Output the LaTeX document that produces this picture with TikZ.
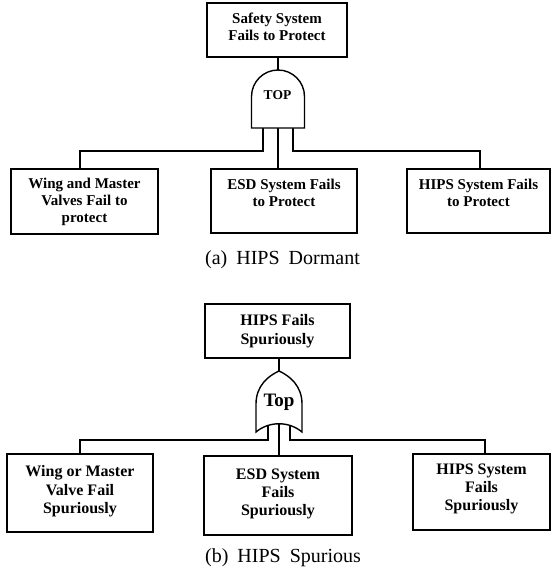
\documentclass[tikz,border=0pt]{standalone}
\usepackage{fontspec}
\setmainfont{Liberation Serif}
\begin{document}
\begin{tikzpicture}[x=1pt,y=-1pt,
  box/.style={draw, line width=1.4pt, inner sep=0pt},
  wire/.style={line width=1.2pt},
  gateshape/.style={draw, line width=1.4pt, fill=white},
  txta/.style={font=\fontsize{15}{17}\selectfont\bfseries, align=center, inner sep=0pt, anchor=north},
  txtb/.style={font=\fontsize{16}{18.3}\selectfont\bfseries, align=center, inner sep=0pt, anchor=north},
  captxt/.style={font=\fontsize{20}{24}\selectfont, inner sep=0pt, anchor=base}]
\fill[white] (0,0) rectangle (552,573);
\useasboundingbox (0,0) rectangle (552,573);

% ---------------- (a) HIPS Dormant ----------------
\node[box, minimum width=140pt, minimum height=54pt] (topA) at (277,30) {};
\node[txta] (topAt) at ([yshift=-10.8pt]topA.north) {Safety System\\Fails to Protect};

\node[box, minimum width=147pt, minimum height=65pt] (AL) at (84.5,201.5) {};
\node[box, minimum width=146pt, minimum height=64pt] (AM) at (284,201) {};
\node[box, minimum width=143pt, minimum height=64pt] (AR) at (478.5,201) {};
\node[txta] (ALt) at ([yshift=-9.8pt]AL.north) {Wing and Master\\Valves Fail to\\protect};
\node[txta] (AMt) at ([yshift=-10.8pt]AM.north) {ESD System Fails\\to Protect};
\node[txta] (ARt) at ([yshift=-10.8pt]AR.north) {HIPS System Fails\\to Protect};

\coordinate (gAtop) at (278,70);
\coordinate (gAl) at (263,124);
\coordinate (gAc) at (278,124);
\coordinate (gAr) at (293,124);
\coordinate (jAl) at (80,151);
\coordinate (jAr) at (480,151);

\draw[wire] (topA.south -| gAtop) -- (gAtop);
\draw[wire] (gAl) -- (gAl |- jAl) -- (jAl) -- (jAl |- AL.north);
\draw[wire] (gAc) -- (gAc |- AM.north);
\draw[wire] (gAr) -- (gAr |- jAr) -- (jAr) -- (jAr |- AR.north);

% AND gate
\draw[gateshape] (251.5,128) -- (251.5,96.5)
  .. controls (251.5,81.9) and (263.4,70) .. (278,70)
  .. controls (292.6,70) and (304.5,81.9) .. (304.5,96.5)
  -- (304.5,128) -- cycle;
\node[font=\fontsize{13.5}{16}\selectfont\bfseries, inner sep=0pt, anchor=base] (gAt) at (277.5,99) {TOP};

\node[captxt] (capA) at (282.5,264) {(a)\hspace{9pt}HIPS\hspace{9pt}Dormant};

% ---------------- (b) HIPS Spurious ----------------
\node[box, minimum width=145pt, minimum height=54pt] (topB) at (277.5,331) {};
\node[txtb] (topBt) at ([yshift=-11.1pt]topB.north) {HIPS Fails\\Spuriously};

\node[box, minimum width=146pt, minimum height=78pt] (BL) at (80,493) {};
\node[box, minimum width=148pt, minimum height=79pt] (BM) at (278,495.5) {};
\node[box, minimum width=137pt, minimum height=76pt] (BR) at (481.5,492) {};
\node[txtb] (BLt) at ([yshift=-12.1pt]BL.north) {Wing or Master\\Valve Fail\\Spuriously};
\node[txtb] (BMt) at ([yshift=-13.1pt]BM.north) {ESD System\\Fails\\Spuriously};
\node[txtb] (BRt) at ([yshift=-10.1pt]BR.north) {HIPS System\\Fails\\Spuriously};

\coordinate (gBtop) at (279,371);
\coordinate (gBl) at (268,422);
\coordinate (gBc) at (279,420);
\coordinate (gBr) at (290,422);
\coordinate (jBl) at (80,440);
\coordinate (jBr) at (485,440);

\draw[wire] (topB.south -| gBtop) -- (gBtop);
\draw[wire] (gBl) -- (gBl |- jBl) -- (jBl) -- (jBl |- BL.north);
\draw[wire] (gBc) -- (gBc |- BM.north);
\draw[wire] (gBr) -- (gBr |- jBr) -- (jBr) -- (jBr |- BR.north);

% OR gate
\draw[gateshape] (256,432) -- (256,404)
  .. controls (256,386) and (268,376) .. (279,371)
  .. controls (290,376) and (302,386) .. (302,404)
  -- (302,432)
  .. controls (289,421) and (269,421) .. (256,432) -- cycle;
\node[font=\fontsize{19}{22}\selectfont\bfseries, inner sep=0pt, anchor=base] (gBt) at (279,406.5) {Top};

\node[captxt] (capB) at (283,562.5) {(b)\hspace{9pt}HIPS\hspace{9pt}Spurious};
\end{tikzpicture}
\end{document}
